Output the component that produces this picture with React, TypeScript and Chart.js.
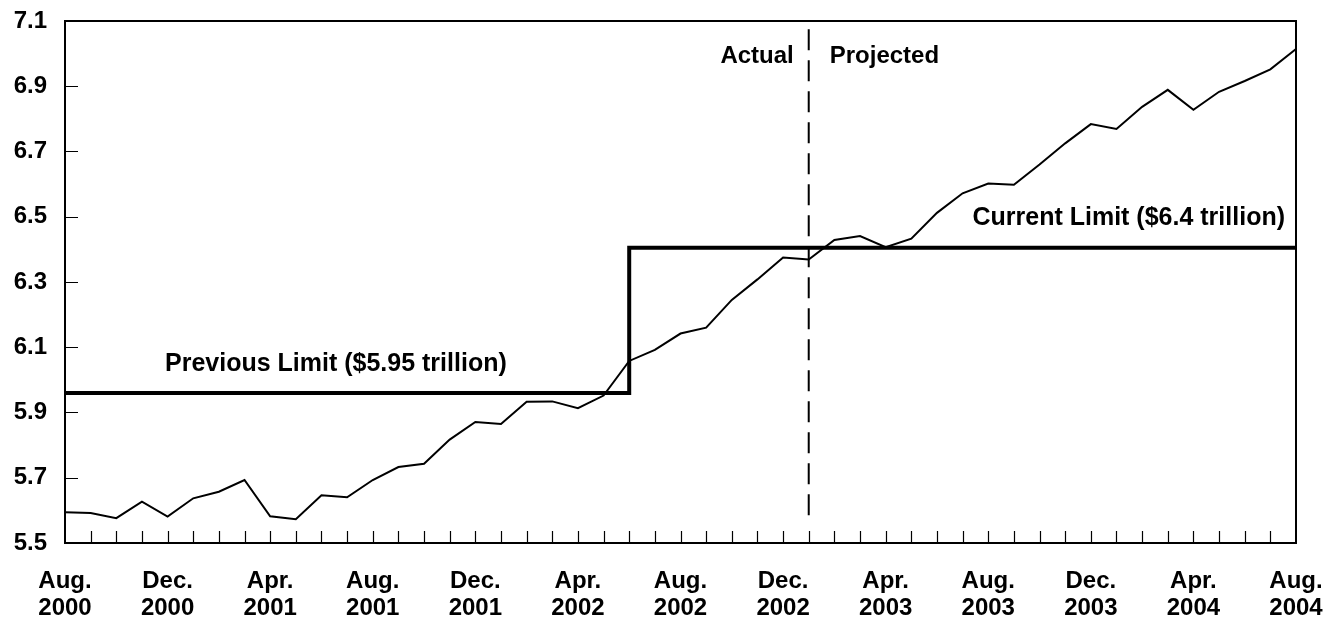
import React, { useEffect, useRef } from 'react';
import { Chart, registerables } from 'chart.js';

Chart.register(...registerables);

const months = [
  'Aug. 2000', 'Sep. 2000', 'Oct. 2000', 'Nov. 2000', 'Dec. 2000',
  'Jan. 2001', 'Feb. 2001', 'Mar. 2001', 'Apr. 2001', 'May 2001', 'Jun. 2001', 'Jul. 2001', 'Aug. 2001',
  'Sep. 2001', 'Oct. 2001', 'Nov. 2001', 'Dec. 2001',
  'Jan. 2002', 'Feb. 2002', 'Mar. 2002', 'Apr. 2002', 'May 2002', 'Jun. 2002', 'Jul. 2002', 'Aug. 2002',
  'Sep. 2002', 'Oct. 2002', 'Nov. 2002', 'Dec. 2002',
  'Jan. 2003', 'Feb. 2003', 'Mar. 2003', 'Apr. 2003', 'May 2003', 'Jun. 2003', 'Jul. 2003', 'Aug. 2003',
  'Sep. 2003', 'Oct. 2003', 'Nov. 2003', 'Dec. 2003',
  'Jan. 2004', 'Feb. 2004', 'Mar. 2004', 'Apr. 2004', 'May 2004', 'Jun. 2004', 'Jul. 2004', 'Aug. 2004',
];

// Total debt subject to limit, trillions of dollars
const debt = [
  5.594, 5.592, 5.576, 5.627, 5.581, 5.637, 5.657, 5.693, 5.582, 5.573, 5.646, 5.640,
  5.693, 5.733, 5.743, 5.817, 5.871, 5.865, 5.933, 5.934, 5.913, 5.952, 6.058, 6.092,
  6.142, 6.160, 6.245, 6.308, 6.375, 6.369, 6.429, 6.441, 6.407, 6.433, 6.512, 6.572,
  6.602, 6.598, 6.660, 6.725, 6.784, 6.769, 6.837, 6.889, 6.828, 6.883, 6.916, 6.952,
  7.014,
];

// Statutory limit (step raised in June 2002)
const limitPoints = [
  { x: 'Aug. 2000', y: 5.96 },
  { x: 'Jun. 2002', y: 5.96 },
  { x: 'Jun. 2002', y: 6.405 },
  { x: 'Aug. 2004', y: 6.405 },
];

// Actual / projected divider
const dividerMonth = 'Jan. 2003';
const dividerPoints = [
  { x: dividerMonth, y: 7.075 },
  { x: dividerMonth, y: 5.583 },
];

const xTickLabels = [
  ['Aug.', '2000'], ['Dec.', '2000'], ['Apr.', '2001'], ['Aug.', '2001'], ['Dec.', '2001'],
  ['Apr.', '2002'], ['Aug.', '2002'], ['Dec.', '2002'], ['Apr.', '2003'], ['Aug.', '2003'],
  ['Dec.', '2003'], ['Apr.', '2004'], ['Aug.', '2004'],
];

const yTickValues = [5.5, 5.7, 5.9, 6.1, 6.3, 6.5, 6.7, 6.9, 7.1];

const FONT = '"Liberation Sans", Arial, Helvetica, sans-serif';

const framePlugin = {
  id: 'frameAndNotes',
  afterDraw(chart: any) {
    const { ctx, chartArea } = chart;
    const xs = chart.scales.x;
    const ys = chart.scales.y;
    const { left, right, top, bottom } = chartArea;
    ctx.save();
    // ticks along bottom axis
    ctx.strokeStyle = '#000';
    ctx.lineWidth = 1.2;
    ctx.beginPath();
    for (let i = 1; i < months.length - 1; i++) {
      const px = Math.round(xs.getPixelForValue(i)) + 0.5;
      ctx.moveTo(px, bottom);
      ctx.lineTo(px, bottom - 12);
    }
    // ticks along left axis
    for (let i = 1; i < yTickValues.length - 1; i++) {
      const py = Math.round(ys.getPixelForValue(yTickValues[i])) + 0.5;
      ctx.moveTo(left, py);
      ctx.lineTo(left + 13, py);
    }
    ctx.stroke();
    // frame
    ctx.lineWidth = 2;
    ctx.strokeRect(left, top, right - left, bottom - top);

    // notes
    ctx.fillStyle = '#000';
    ctx.textBaseline = 'middle';
    const xDiv = xs.getPixelForValue(months.indexOf(dividerMonth));
    ctx.font = `bold 24px ${FONT}`;
    ctx.textAlign = 'right';
    ctx.fillText('Actual', xDiv - 15, top + 35);
    ctx.textAlign = 'left';
    ctx.fillText('Projected', xDiv + 21, top + 35);

    ctx.font = `bold 25px ${FONT}`;
    ctx.textAlign = 'left';
    ctx.fillText('Previous Limit ($5.95 trillion)', left + 100, ys.getPixelForValue(limitPoints[0].y) - 29);
    ctx.textAlign = 'right';
    ctx.fillText('Current Limit ($6.4 trillion)', right - 11, ys.getPixelForValue(limitPoints[3].y) - 30);
    ctx.restore();
  },
};

export default function App() {
  const ref = useRef<HTMLCanvasElement>(null);

  useEffect(() => {
    if (!ref.current) return;
    Chart.defaults.font.family = FONT;
    Chart.defaults.color = '#000';
    const chart = new Chart(ref.current, {
      type: 'line',
      data: {
        labels: months,
        datasets: [
          {
            label: 'Debt',
            data: debt,
            borderColor: '#000',
            borderWidth: 2,
            pointRadius: 0,
            tension: 0,
            fill: false,
          },
          {
            label: 'Limit',
            data: limitPoints as any,
            borderColor: '#000',
            borderWidth: 4,
            borderJoinStyle: 'miter',
            pointRadius: 0,
            tension: 0,
            fill: false,
          },
          {
            label: 'Divider',
            data: dividerPoints as any,
            borderColor: '#000',
            borderWidth: 2,
            borderDash: [21, 10],
            pointRadius: 0,
            fill: false,
          },
        ],
      },
      options: {
        responsive: false,
        animation: false,
        layout: { padding: { top: 21, right: 32, left: 0, bottom: 0 } },
        plugins: {
          legend: { display: false },
          tooltip: { enabled: false },
        },
        scales: {
          x: {
            type: 'category',
            offset: false,
            grid: { display: false, drawTicks: false },
            border: { display: false },
            ticks: {
              autoSkip: false,
              maxRotation: 0,
              minRotation: 0,
              padding: 25,
              color: '#000',
              font: { size: 24, weight: 'bold', lineHeight: 1.125 },
              callback: (_v: any, index: number) => (index % 4 === 0 ? xTickLabels[index / 4] : ''),
            },
            afterFit: (scale: any) => {
              scale.height = 75;
              scale.paddingLeft = 0;
              scale.paddingRight = 0;
            },
          },
          y: {
            min: 5.5,
            max: 7.1,
            grid: { display: false, drawTicks: false },
            border: { display: false },
            afterBuildTicks: (scale: any) => {
              scale.ticks = yTickValues.map((v) => ({ value: v }));
            },
            ticks: {
              padding: 18,
              color: '#000',
              font: { size: 24, weight: 'bold' },
              callback: (v: any) => Number(v).toFixed(1),
            },
            afterFit: (scale: any) => {
              scale.width = 65;
              scale.paddingTop = 0;
              scale.paddingBottom = 0;
            },
          },
        },
      } as any,
      plugins: [framePlugin],
    });
    return () => chart.destroy();
  }, []);

  return (
    <div style={{ position: 'fixed', left: 0, top: 0, width: 1328, height: 618, background: '#fff' }}>
      <canvas ref={ref} width={1328} height={618} style={{ display: 'block' }} />
    </div>
  );
}
